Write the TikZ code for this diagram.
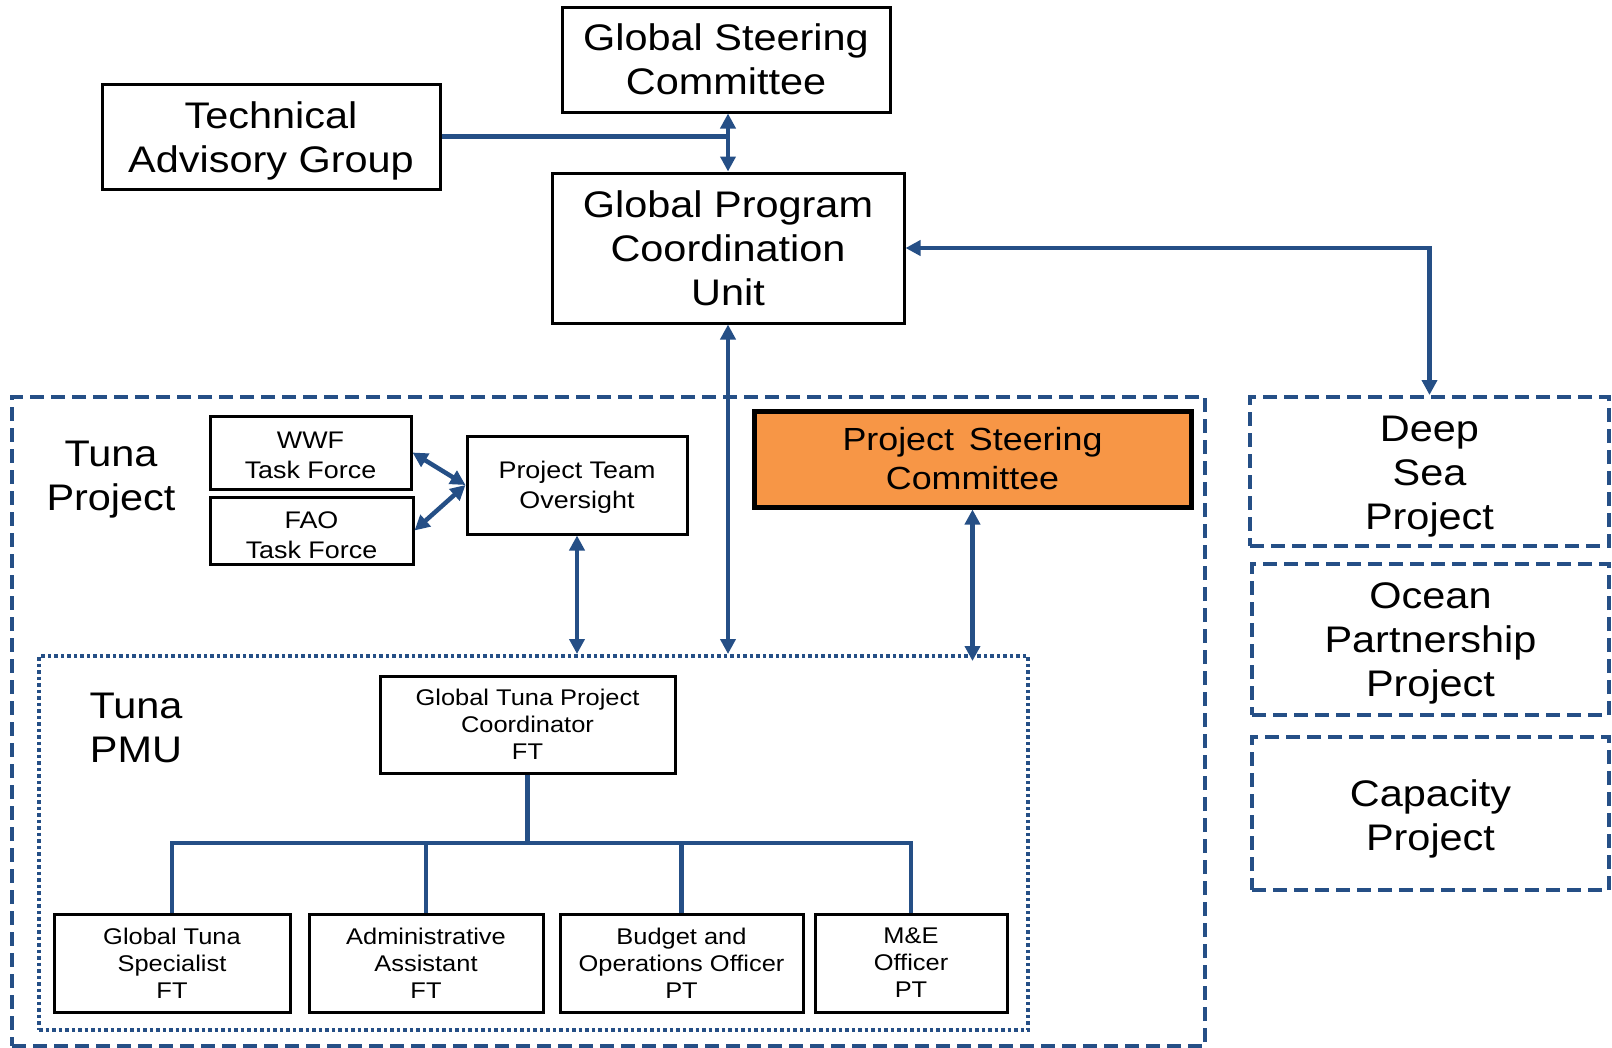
\documentclass[tikz,border=0pt]{standalone}
\usepackage{fontspec}
\setmainfont{Liberation Sans}[FakeStretch=1.12]
\usetikzlibrary{arrows.meta}
\definecolor{lnblue}{RGB}{37,79,134}
\definecolor{psorange}{RGB}{247,150,70}
\begin{document}
\begin{tikzpicture}[x=1pt,y=-1pt,
  box/.style={draw=black, line width=3pt, fill=white, inner sep=0pt, align=center},
  txt/.style={inner sep=0pt, align=center},
  bigtxt/.style={font=\fontsize{37}{44}\selectfont},
  psctxt/.style={font=\fontsize{32}{39}\selectfont},
  midtxt/.style={font=\fontsize{24}{30}\selectfont},
  smltxt/.style={font=\fontsize{22.7}{27}\selectfont},
  dashbox/.style={draw=lnblue, line width=4pt, dash pattern=on 14pt off 7pt, inner sep=0pt, align=center},
  dotbox/.style={draw=lnblue, line width=4pt, dash pattern=on 3.5pt off 3pt, inner sep=0pt},
  link/.style={draw=lnblue, line width=4.5pt},
  twoway/.style={link, {Triangle[length=15pt,width=15pt]}-{Triangle[length=15pt,width=15pt]}},
]
\useasboundingbox (0,0) rectangle (1612,1047);

% containers
\node[dashbox, minimum width=1193pt, minimum height=649pt] (tuna) at (608.5,721.5) {};
\node[dotbox, minimum width=989pt, minimum height=374pt] (pmu) at (533.5,843) {};

% top
\node[box, minimum width=338pt, minimum height=105pt] (tag) at (271,136.5) {};
\node[txt, bigtxt] (tagt) at ([yshift=-4pt]tag.center) {Technical\\Advisory Group};
\node[box, bigtxt, minimum width=328pt, minimum height=105pt] (gsc) at (726,59.5) {Global Steering\\Committee};
\node[box, bigtxt, minimum width=352pt, minimum height=150pt] (gpcu) at (728,248) {Global Program\\Coordination\\Unit};

% right projects
\node[dashbox, minimum width=359pt, minimum height=149pt] (deep) at (1429.5,471.5) {};
\node[txt, bigtxt] (deept) at ([yshift=-5pt]deep.center) {Deep\\Sea\\Project};
\node[dashbox, minimum width=357pt, minimum height=151pt] (ocean) at (1430.5,639.5) {};
\node[txt, bigtxt] (oceant) at ([yshift=-4pt]ocean.center) {Ocean\\Partnership\\Project};
\node[dashbox, minimum width=357pt, minimum height=153pt] (cap) at (1430.5,813.5) {};
\node[txt, bigtxt] (capt) at ([yshift=-5pt]cap.center) {Capacity\\Project};

% tuna project contents
\node[txt, bigtxt] (tplabel) at (111,480) {Tuna\\Project};
\node[box, minimum width=201pt, minimum height=73pt] (wwf) at (310.5,452.5) {};
\node[txt, midtxt] (wwft) at ([yshift=-3pt]wwf.center) {WWF\\Task Force};
\node[box, minimum width=203pt, minimum height=67pt] (fao) at (311.5,530.5) {};
\node[txt, midtxt] (faot) at ([yshift=-5pt]fao.center) {FAO\\Task Force};
\node[box, minimum width=220pt, minimum height=98pt] (pto) at (577,485) {};
\node[txt, midtxt] (ptot) at ([yshift=-2pt]pto.center) {Project Team\\Oversight};
\node[box, psctxt, line width=5pt, fill=psorange, minimum width=437pt, minimum height=96pt] (psc) at (972.5,459) {Project\hspace{5pt} Steering\\Committee};

% PMU contents
\node[txt, bigtxt] (pmulabel) at (136,727.5) {Tuna\\PMU};
\node[box, smltxt, minimum width=295pt, minimum height=97pt] (gtpc) at (527.5,724.5) {Global Tuna Project\\Coordinator\\FT};
\node[box, smltxt, minimum width=236pt, minimum height=98pt] (gts) at (172,963) {Global Tuna\\Specialist\\FT};
\node[box, smltxt, minimum width=234pt, minimum height=98pt] (aa) at (426,963) {Administrative\\Assistant\\FT};
\node[box, smltxt, minimum width=243pt, minimum height=98pt] (boo) at (681.5,963) {Budget and\\Operations Officer\\PT};
\node[box, smltxt, minimum width=192pt, minimum height=98pt] (me) at (911,963) {M\&E\\Officer\\PT};

% connectors
\draw[link] (tag.east) -- (tag.east -| gpcu.north);
\draw[twoway] (gpcu.north |- gsc.south) -- (gpcu.north);
\draw[twoway] (gpcu.east) -| (deep.north);
\draw[twoway] (pto.west) -- (wwf.east);
\draw[twoway] (pto.west) -- (fao.east);
\draw[twoway] (pto.south) -- (pto.south |- pmu.north);
\draw[twoway] (gpcu.south) -- (gpcu.south |- pmu.north);
\coordinate (pscend) at ([yshift=-7pt]psc.south |- pmu.north);
\draw[twoway] (psc.south) -- (pscend);

% tree
\coordinate (busy) at (0,843);
\draw[link, line join=miter] (gtpc.south) -- (gtpc.south |- busy);
\draw[link, line join=miter] (gts.north) |- (me.north |- busy) -- (me.north);
\draw[link] (aa.north) -- (aa.north |- busy);
\draw[link] (boo.north) -- (boo.north |- busy);
\end{tikzpicture}
\end{document}
